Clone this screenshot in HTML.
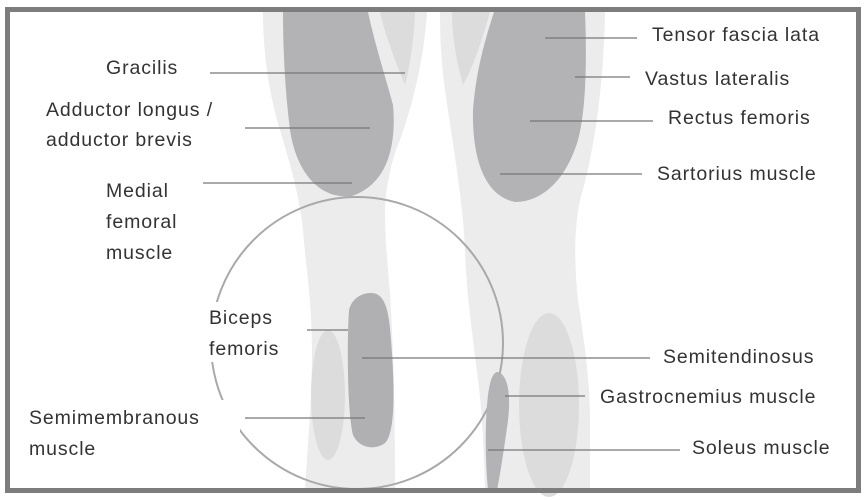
<!DOCTYPE html>
<html><head><meta charset="utf-8"><style>
html,body{margin:0;padding:0;background:#fff}
svg{display:block}
text{font-family:"Liberation Sans",sans-serif;font-size:19.5px;letter-spacing:0.9px;fill:#333}
</style></head><body>
<svg width="865" height="500" viewBox="0 0 865 500">
<rect x="0" y="0" width="865" height="500" fill="#fff"/>
<path d="M263,12 L427,12 C424,60 412,110 396,150 C388,175 385,195 385,215 C385,250 390,280 392,330 C395,400 395,450 395,490 L305,490 C308,440 312,400 312,350 C312,300 305,260 303,230 C300,200 292,170 280,130 C268,90 263,50 263,12 Z" fill="#ececec"/>
<path d="M440,12 L605,12 C604,80 595,150 580,200 C574,230 574,260 578,300 C584,340 590,380 590,420 L590,490 L485,490 C484,450 482,410 478,380 C472,330 466,290 465,250 C463,200 452,140 445,90 C441,60 440,35 440,12 Z" fill="#ececec"/>
<path d="M380,12 L415,12 C414,40 410,65 405,85 C395,60 385,35 380,12 Z" fill="#dcdcdc"/>
<path d="M452,12 L490,12 C482,40 474,65 463,85 C456,60 452,35 452,12 Z" fill="#dcdcdc"/>
<path d="M283,12 L368,12 C375,45 385,75 393,105 C397,150 385,185 352,196 C318,200 296,170 290,130 C285,90 283,50 283,12 Z" fill="#b3b2b5"/>
<path d="M494,12 L585,12 C587,60 586,110 578,140 C566,180 542,202 515,202 C485,196 472,160 473,110 C476,70 485,40 494,12 Z" fill="#b3b2b5"/>
<circle cx="357" cy="343" r="146" fill="none" stroke="#a9a9a9" stroke-width="2"/>
<ellipse cx="328" cy="395" rx="17" ry="65" fill="#dcdcdc"/>
<path d="M371,293 C385,293 389,310 391,340 C395,390 395,430 386,442 C378,450 360,450 353,435 C347,410 347,340 349,310 C352,298 362,293 371,293 Z" fill="#b0b0b3"/>
<ellipse cx="549" cy="405" rx="30" ry="92" fill="#dcdcdc"/>
<path d="M498,372 C508,375 511,395 508,420 C504,450 500,475 497,490 L488,490 C485,460 485,420 488,395 C490,380 493,372 498,372 Z" fill="#b3b2b5"/>
<rect x="205" y="302" width="85" height="60" fill="#fff"/>
<rect x="20" y="400" width="220" height="65" fill="#fff"/>
<rect x="590" y="375" width="240" height="35" fill="#fff"/>
<rect x="7.5" y="9.5" width="851" height="481" fill="none" stroke="#7d7d7d" stroke-width="5"/>
<g stroke="#777" stroke-width="1.3">
<line x1="210" y1="73" x2="405" y2="73"/>
<line x1="245" y1="128" x2="370" y2="128"/>
<line x1="203" y1="183" x2="352" y2="183"/>
<line x1="545" y1="38" x2="637" y2="38"/>
<line x1="575" y1="77" x2="630" y2="77"/>
<line x1="530" y1="121" x2="653" y2="121"/>
<line x1="500" y1="174" x2="642" y2="174"/>
<line x1="307" y1="330" x2="348" y2="330"/>
<line x1="362" y1="358" x2="650" y2="358"/>
<line x1="505" y1="396" x2="585" y2="396"/>
<line x1="245" y1="418" x2="365" y2="418"/>
<line x1="488" y1="450" x2="680" y2="450"/>
</g>
<text x="106" y="74">Gracilis</text>
<text x="46" y="116">Adductor longus /</text>
<text x="46" y="146">adductor brevis</text>
<text x="106" y="197">Medial</text>
<text x="106" y="228">femoral</text>
<text x="106" y="259">muscle</text>
<text x="209" y="324">Biceps</text>
<text x="209" y="355">femoris</text>
<text x="29" y="424">Semimembranous</text>
<text x="29" y="455">muscle</text>
<text x="652" y="41">Tensor fascia lata</text>
<text x="645" y="85">Vastus lateralis</text>
<text x="668" y="124">Rectus femoris</text>
<text x="657" y="180">Sartorius muscle</text>
<text x="663" y="363">Semitendinosus</text>
<text x="600" y="403">Gastrocnemius muscle</text>
<text x="692" y="454">Soleus muscle</text>
</svg>
</body></html>
